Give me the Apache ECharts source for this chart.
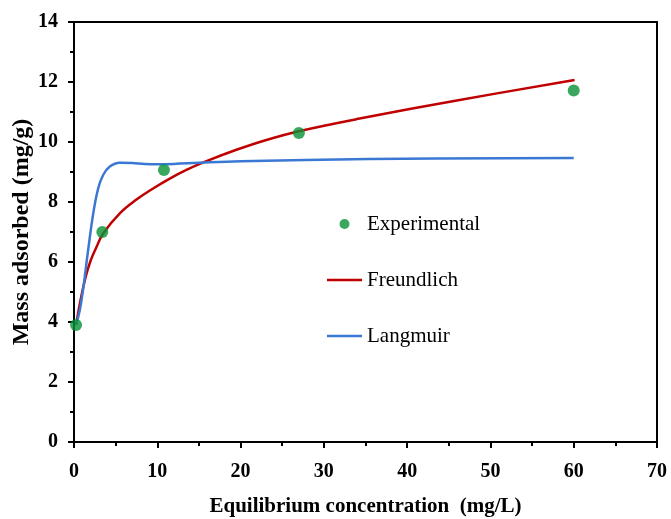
<!DOCTYPE html>
<html>
<head>
<meta charset="utf-8">
<script src="https://cdn.jsdelivr.net/npm/echarts@6/dist/echarts.min.js"></script>
<style>
  html, body { margin: 0; padding: 0; background: #fff; }
  #chart { width: 671px; height: 519px; }
</style>
</head>
<body>
<div id="chart"></div>
<script>
// Measured adsorption data
const expX = [0.25, 3.4, 10.8, 27.0, 60.0];
const expY = [3.9, 7.0, 9.07, 10.3, 11.72];

// Freundlich model curve
const freundlichX = [0.25, 0.8, 1.4, 2.0, 2.7, 3.5, 5.5, 7.5, 9.5, 11.5, 13.5, 15.9, 19.5, 23.0, 27.0, 34.3, 46.3, 60.1];
const freundlichY = [3.9, 4.75, 5.5, 6.05, 6.5, 6.95, 7.62, 8.08, 8.45, 8.78, 9.07, 9.36, 9.74, 10.06, 10.36, 10.78, 11.4, 12.07];

// Langmuir model curve
const langmuirX = [0.25, 0.7, 1.1, 1.7, 2.3, 2.9, 3.5, 4.3, 5.5, 7.0, 8.5, 10.0, 12.0, 15.0, 20.0, 35.5, 60.0];
const langmuirY = [3.9, 4.4, 5.1, 6.4, 7.6, 8.45, 8.9, 9.18, 9.31, 9.3, 9.27, 9.26, 9.27, 9.31, 9.36, 9.43, 9.47];

const xTicks = [0, 10, 20, 30, 40, 50, 60, 70];
const yTicks = [0, 2, 4, 6, 8, 10, 12, 14];

const pairs = (xs, ys) => xs.map((x, i) => [x, ys[i]]);

const serif = '"Liberation Serif", "Times New Roman", serif';
// thin bar used as the legend key for the fitted curves
const lineIcon = 'path://M0,0L0.001,0L0,0.001Z M0,3.75H35V6.25H0Z M35,10L34.999,10L35,9.999Z';

const axisBase = {
  axisLine: { show: true, onZero: false, lineStyle: { color: '#000', width: 2 } },
  axisTick: { show: true, inside: false, length: 6, lineStyle: { color: '#000', width: 2 } },
  minorTick: { show: true, splitNumber: 2, length: 4, lineStyle: { color: '#000', width: 2 } },
  splitLine: { show: false },
  axisLabel: { color: '#000', fontFamily: serif, fontWeight: 'bold', fontSize: 20 },
  nameTextStyle: { color: '#000', fontFamily: serif, fontWeight: 'bold', fontSize: 21 },
  nameMoveOverlap: false
};

const chart = echarts.init(document.getElementById('chart'), null, { renderer: 'canvas' });
chart.setOption({
  animation: false,
  backgroundColor: '#fff',
  grid: {
    left: 74, right: 14, top: 22, bottom: 77,
    containLabel: false, outerBoundsMode: 'none',
    show: true, borderColor: '#000', borderWidth: 2, backgroundColor: 'transparent'
  },
  xAxis: Object.assign({}, axisBase, {
    type: 'value',
    min: xTicks[0], max: xTicks[xTicks.length - 1], interval: 10,
    name: 'Equilibrium concentration  (mg/L)',
    nameLocation: 'middle', nameGap: 54,
    axisLabel: Object.assign({}, axisBase.axisLabel, { margin: 20 })
  }),
  yAxis: Object.assign({}, axisBase, {
    type: 'value',
    min: yTicks[0], max: yTicks[yTicks.length - 1], interval: 2,
    name: 'Mass adsorbed (mg/g)',
    nameLocation: 'middle', nameGap: 40,
    nameTextStyle: Object.assign({}, axisBase.nameTextStyle, { fontSize: 24 }),
    axisLabel: Object.assign({}, axisBase.axisLabel, { margin: 16 })
  }),
  legend: {
    orient: 'vertical',
    left: 327, top: 213, padding: 0,
    itemWidth: 35, itemHeight: 10,
    itemGap: 34,
    textStyle: { color: '#000', fontFamily: serif, fontSize: 21, lineHeight: 22 },
    data: [
      { name: 'Experimental', icon: 'circle' },
      { name: 'Freundlich', icon: lineIcon },
      { name: 'Langmuir', icon: lineIcon }
    ]
  },
  series: [
    {
      name: 'Freundlich', type: 'line',
      data: pairs(freundlichX, freundlichY),
      smooth: 0.4, symbol: 'none',
      lineStyle: { color: '#c00000', width: 2.5 },
      itemStyle: { color: '#c00000' },
      z: 2
    },
    {
      name: 'Langmuir', type: 'line',
      data: pairs(langmuirX, langmuirY),
      smooth: 0.4, symbol: 'none',
      lineStyle: { color: '#3b78d4', width: 2.5 },
      itemStyle: { color: '#3b78d4' },
      z: 2
    },
    {
      name: 'Experimental', type: 'scatter',
      data: pairs(expX, expY),
      symbol: 'circle', symbolSize: 12,
      itemStyle: { color: '#089236' },
      z: 3
    }
  ]
});
</script>
</body>
</html>
